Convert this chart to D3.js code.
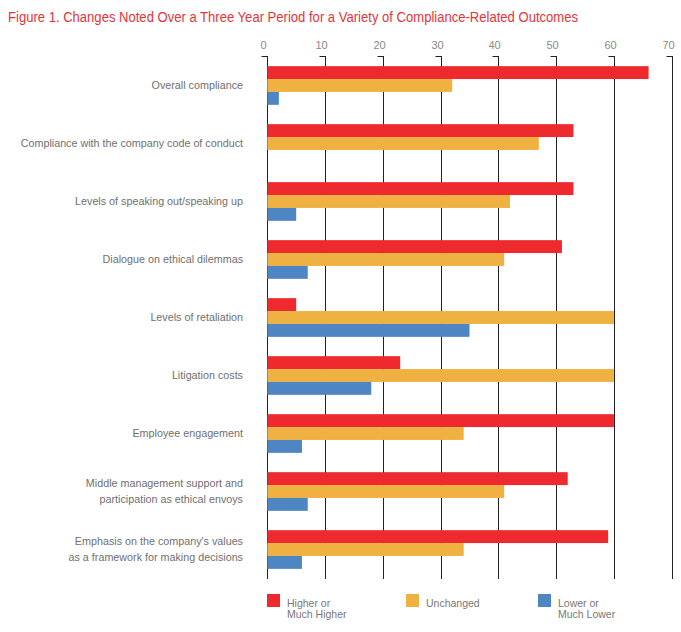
<!DOCTYPE html>
<html>
<head>
<meta charset="utf-8">
<script src="https://cdn.jsdelivr.net/npm/d3@7"></script>
<style>
  html, body { margin: 0; padding: 0; background: #fff; }
  svg { display: block; }
</style>
</head>
<body>
<svg id="chart" width="681" height="632"></svg>
<script>
const title = "Figure 1. Changes Noted Over a Three Year Period for a Variety of Compliance-Related Outcomes";
const categories = [
  ["Overall compliance"],
  ["Compliance with the company code of conduct"],
  ["Levels of speaking out/speaking up"],
  ["Dialogue on ethical dilemmas"],
  ["Levels of retaliation"],
  ["Litigation costs"],
  ["Employee engagement"],
  ["Middle management support and", "participation as ethical envoys"],
  ["Emphasis on the company's values", "as a framework for making decisions"]
];
const seriesNames = [["Higher or", "Much Higher"], ["Unchanged"], ["Lower or", "Much Lower"]];
const higher    = [66, 53, 53, 51, 5, 23, 60, 52, 59];
const unchanged = [32, 47, 42, 41, 60, 60, 34, 41, 34];
const lower     = [2, 0, 5, 7, 35, 18, 6, 7, 6];
const tickValues = [0, 10, 20, 30, 40, 50, 60, 70];
const colors = ["#ee2a2f", "#f0b143", "#4d86c2"];

const seriesValues = [higher, unchanged, lower];
const svg = d3.select("#chart");
const font = "'Liberation Sans', Arial, sans-serif";

svg.append("text")
  .attr("x", 8).attr("y", 22)
  .attr("font-family", font).attr("font-size", 14)
  .attr("fill", "#e3343b")
  .attr("textLength", 570).attr("lengthAdjust", "spacingAndGlyphs")
  .text(title);

const x = d3.scaleLinear().domain([0, 70]).range([267.3, 671.7]);
const yTop = 56, yBot = 579;
const y = d3.scaleBand().domain(d3.range(categories.length))
  .range([yTop, yBot]).paddingInner(1/3).paddingOuter(0.175);
const ySub = d3.scaleBand().domain([0, 1, 2]).range([0, y.bandwidth()]);

// grid lines with top stubs
const grid = svg.append("g");
tickValues.forEach(t => {
  const xx = Math.round(x(t)) + 0.5;
  grid.append("line").attr("x1", xx).attr("x2", xx).attr("y1", yTop).attr("y2", yBot)
    .attr("stroke", "#222").attr("stroke-width", 1);
  grid.append("line").attr("x1", xx - 6).attr("x2", xx).attr("y1", yTop + 0.5).attr("y2", yTop + 0.5)
    .attr("stroke", "#222").attr("stroke-width", 1);
  grid.append("text").attr("x", xx - 4).attr("y", 49)
    .attr("text-anchor", "middle")
    .attr("font-family", font).attr("font-size", 11).attr("fill", "#8a8a8a")
    .text(t);
});

// bars
const bars = svg.append("g");
categories.forEach((c, i) => {
  seriesValues.forEach((vals, s) => {
    if (vals[i] <= 0) return;
    bars.append("rect")
      .attr("x", x(0))
      .attr("y", y(i) + ySub(s))
      .attr("width", x(vals[i]) - x(0))
      .attr("height", ySub.bandwidth())
      .attr("fill", colors[s]);
  });
});

// category labels
const labels = svg.append("g");
categories.forEach((c, i) => {
  const cy = y(i) + y.bandwidth() / 2;
  const lh = 16;
  const t = labels.append("text")
    .attr("text-anchor", "end")
    .attr("font-family", font).attr("font-size", 10.75).attr("fill", "#707070");
  c.forEach((line, k) => {
    t.append("tspan").attr("x", 243)
      .attr("y", cy + (k - (c.length - 1) / 2) * lh + 3.8)
      .text(line);
  });
});

// legend
const legendX = [267, 406, 538];
const legend = svg.append("g");
seriesNames.forEach((names, s) => {
  legend.append("rect").attr("x", legendX[s]).attr("y", 594).attr("width", 13).attr("height", 13)
    .attr("fill", colors[s]);
  const t = legend.append("text")
    .attr("font-family", font).attr("font-size", 10.5).attr("fill", "#777");
  names.forEach((n, k) => {
    t.append("tspan").attr("x", legendX[s] + 20).attr("y", 607 + k * 11).text(n);
  });
});
</script>
</body>
</html>
